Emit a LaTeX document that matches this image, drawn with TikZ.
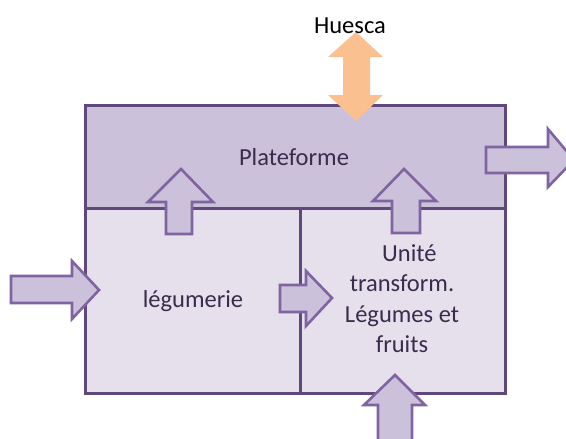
\documentclass[tikz,border=0pt]{standalone}
\usepackage{fontspec}
\setmainfont{Carlito}
\definecolor{bandfill}{HTML}{CCC1DA}
\definecolor{lowfill}{HTML}{E5E0EC}
\definecolor{frame}{HTML}{5F497A}
\definecolor{arrowfill}{HTML}{CCC1DA}
\definecolor{arrowline}{HTML}{8064A2}
\definecolor{orangefill}{HTML}{FAC090}
\definecolor{labeltext}{HTML}{3A2C4C}
\begin{document}
\begin{tikzpicture}[x=1pt,y=-1pt,
  framebox/.style={draw=frame,line width=3pt},
  blockarrow/.style={draw=arrowline,fill=arrowfill,line width=2.6pt,line join=miter},
  orangearrow/.style={fill=orangefill},
  lbl/.style={font=\fontsize{24.5}{30.5}\selectfont,text=labeltext,inner sep=0pt,align=center}]
\useasboundingbox (0,0) rectangle (566,439);

% panels
\fill[bandfill] (85,105) rectangle (505,208);
\fill[lowfill] (85,208) rectangle (505,393);
\draw[framebox] (85,105) rectangle (505,393);
\draw[framebox] (85,208) -- (505,208);
\draw[framebox] (300,208) -- (300,393);

% two-way link to Huesca
\fill[orangearrow] (356,32) -- (383,57) -- (370,57) -- (370,95) -- (383,95)
  -- (356,121) -- (328,95) -- (343,95) -- (343,57) -- (328,57) -- cycle;

% incoming from the left
\draw[blockarrow] (11,276) -- (72,276) -- (72,261) -- (99,290) -- (72,319)
  -- (72,303) -- (11,303) -- cycle;
% légumerie to unité
\draw[blockarrow] (280,285) -- (306,285) -- (306,271) -- (332,298) -- (306,326)
  -- (306,312) -- (280,312) -- cycle;
% outgoing to the right
\draw[blockarrow] (486,147) -- (548,147) -- (548,129) -- (574,160) -- (548,187)
  -- (548,173) -- (486,173) -- cycle;
% up into the platform
\draw[blockarrow] (166,234) -- (166,202) -- (148,202) -- (181,169) -- (213,202)
  -- (192,202) -- (192,234) -- cycle;
\draw[blockarrow] (392,233) -- (392,201) -- (373,201) -- (404,169) -- (436,201)
  -- (420,201) -- (420,233) -- cycle;
% incoming from below
\draw[blockarrow] (378,445) -- (378,405) -- (364,405) -- (395,375) -- (425,405)
  -- (412,405) -- (412,445) -- cycle;

% labels
\node[lbl,text=black,anchor=base] (huesca) at (350,33) {Huesca};
\node[lbl,anchor=base] (plateforme) at (294,165) {Plateforme};
\node[lbl,anchor=base] (legumerie) at (193,307) {légumerie};
\node[lbl,anchor=north] (unite) at (402,244)
  {\hspace*{0.6em}Unité\\transform.\\Légumes et\\fruits};
\end{tikzpicture}
\end{document}
